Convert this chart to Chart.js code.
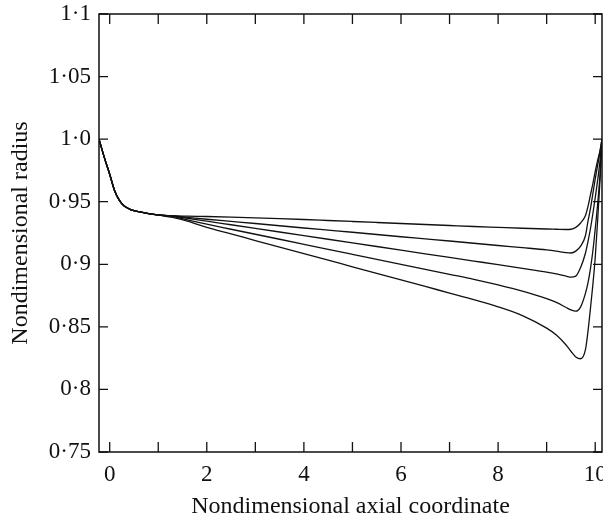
<!DOCTYPE html>
<html>
<head>
<meta charset="utf-8">
<script src="https://cdn.jsdelivr.net/npm/chart.js@4/dist/chart.umd.min.js"></script>
<style>
html,body{margin:0;padding:0;background:#fff;}
#wrap{width:603px;height:521px;}
</style>
</head>
<body>
<div id="wrap"><canvas id="c" width="603" height="521"></canvas></div>
<script>
// Shared axial coordinate samples
const xAxial = [-0.22, -0.1, 0.0, 0.1, 0.2, 0.3, 0.45, 0.6, 0.8, 1.0, 1.3, 1.6, 2.0, 2.5, 3.0, 3.5, 4.0, 4.5, 5.0, 5.5, 6.0, 6.5, 7.0, 7.5, 8.0, 8.5, 9.0, 9.2, 9.4, 9.5, 9.6, 9.7, 9.8, 9.85, 9.9, 9.95, 10.0, 10.05, 10.1, 10.14];

// Nondimensional radius for the five curves (top to bottom)
const radius1 = [1.000, 0.984, 0.972, 0.959, 0.951, 0.9465, 0.9435, 0.942, 0.9405, 0.9395, 0.9388, 0.9385, 0.9382, 0.9377, 0.9371, 0.9365, 0.9358, 0.935, 0.9342, 0.9334, 0.9326, 0.9318, 0.931, 0.9302, 0.9295, 0.9288, 0.9282, 0.928, 0.9278, 0.928, 0.9295, 0.933, 0.939, 0.946, 0.955, 0.964, 0.974, 0.983, 0.991, 1.000];
const radius2 = [1.000, 0.984, 0.972, 0.959, 0.951, 0.9465, 0.9435, 0.942, 0.9405, 0.9395, 0.9386, 0.9375, 0.936, 0.9343, 0.9326, 0.9308, 0.929, 0.9273, 0.9256, 0.9238, 0.922, 0.9203, 0.9186, 0.9168, 0.915, 0.9133, 0.9115, 0.9105, 0.9093, 0.909, 0.9105, 0.9145, 0.923, 0.934, 0.944, 0.956, 0.968, 0.979, 0.990, 1.000];
const radius3 = [1.000, 0.984, 0.972, 0.959, 0.951, 0.9465, 0.9435, 0.942, 0.9405, 0.9395, 0.9384, 0.9368, 0.9345, 0.9316, 0.9287, 0.9258, 0.9229, 0.920, 0.9171, 0.9142, 0.9113, 0.9084, 0.9055, 0.9026, 0.8997, 0.8967, 0.8937, 0.8923, 0.8905, 0.8897, 0.8905, 0.8975, 0.909, 0.918, 0.928, 0.940, 0.953, 0.967, 0.983, 1.000];
const radius4 = [1.000, 0.984, 0.972, 0.959, 0.951, 0.9465, 0.9435, 0.942, 0.9405, 0.9394, 0.938, 0.9355, 0.932, 0.928, 0.924, 0.920, 0.916, 0.912, 0.908, 0.904, 0.900, 0.896, 0.892, 0.888, 0.8835, 0.8785, 0.8725, 0.8695, 0.8655, 0.8635, 0.8625, 0.866, 0.877, 0.885, 0.896, 0.910, 0.928, 0.948, 0.972, 1.000];
const radius5 = [1.000, 0.984, 0.972, 0.959, 0.951, 0.9465, 0.9435, 0.942, 0.9405, 0.9392, 0.9375, 0.9345, 0.9295, 0.9243, 0.919, 0.9138, 0.9085, 0.9033, 0.898, 0.8928, 0.8875, 0.8823, 0.877, 0.8718, 0.866, 0.859, 0.849, 0.8435, 0.8355, 0.8305, 0.826, 0.8245, 0.832, 0.846, 0.864, 0.883, 0.905, 0.935, 0.968, 1.000];

// Ticks
const xTickValues = [0, 1, 2, 3, 4, 5, 6, 7, 8, 9, 10];
const xTickLabels = ['0', '', '2', '', '4', '', '6', '', '8', '', '10'];
const yTickValues = [0.75, 0.8, 0.85, 0.9, 0.95, 1.0, 1.05, 1.1];
const yTickLabels = ['0·75', '0·8', '0·85', '0·9', '0·95', '1·0', '1·05', '1·1'];

const seriesList = [radius1, radius2, radius3, radius4, radius5];
const ink = '#111';
const serif = 'Liberation Serif, Times New Roman, serif';

const datasets = seriesList.map(arr => ({
  data: arr.map((v, i) => ({x: xAxial[i], y: v})),
  borderColor: ink,
  borderWidth: 1.3,
  pointRadius: 0,
  fill: false,
  cubicInterpolationMode: 'monotone'
}));

const frameTicks = {
  id: 'frameTicks',
  afterDatasetsDraw(chart) {
    const {ctx, chartArea: a, scales: {x, y}} = chart;
    ctx.save();
    ctx.strokeStyle = ink;
    ctx.lineWidth = 1.5;
    ctx.strokeRect(a.left, a.top, a.right - a.left, a.bottom - a.top);
    ctx.lineWidth = 1.3;
    ctx.beginPath();
    x.ticks.forEach(t => {
      const px = x.getPixelForValue(t.value);
      ctx.moveTo(px, a.bottom); ctx.lineTo(px, a.bottom - 10);
      ctx.moveTo(px, a.top); ctx.lineTo(px, a.top + 10);
    });
    y.ticks.forEach(t => {
      const py = y.getPixelForValue(t.value);
      ctx.moveTo(a.left, py); ctx.lineTo(a.left + 9, py);
      ctx.moveTo(a.right, py); ctx.lineTo(a.right - 9, py);
    });
    ctx.stroke();
    ctx.restore();
  }
};

new Chart(document.getElementById('c'), {
  type: 'line',
  data: {datasets},
  options: {
    responsive: false,
    animation: false,
    devicePixelRatio: 1,
    layout: {padding: {left: 0, top: 14, right: 1, bottom: 0}},
    plugins: {legend: {display: false}, tooltip: {enabled: false}},
    scales: {
      x: {
        type: 'linear',
        min: -0.22,
        max: 10.14,
        afterBuildTicks: s => { s.ticks = xTickValues.map(v => ({value: v})); },
        afterFit: s => { s.height = 69; s.paddingLeft = 0; s.paddingRight = 0; },
        grid: {display: false, drawTicks: false},
        border: {display: false},
        ticks: {
          autoSkip: false, maxRotation: 0, minRotation: 0, padding: 9,
          color: ink, font: {family: serif, size: 23},
          callback: (v, i) => xTickLabels[i]
        },
        title: {
          display: true, text: 'Nondimensional axial coordinate', color: ink,
          font: {family: serif, size: 24}, padding: {top: 0, bottom: 0}
        }
      },
      y: {
        type: 'linear',
        min: 0.75,
        max: 1.1,
        afterBuildTicks: s => { s.ticks = yTickValues.map(v => ({value: v})); },
        afterFit: s => { s.width = 99; s.paddingTop = 0; s.paddingBottom = 0; },
        grid: {display: false, drawTicks: false},
        border: {display: false},
        ticks: {
          autoSkip: false, padding: 8,
          color: ink, font: {family: serif, size: 23},
          callback: (v, i) => yTickLabels[i]
        },
        title: {
          display: true, text: 'Nondimensional radius', color: ink,
          font: {family: serif, size: 24}, padding: {top: 6, bottom: 0}
        }
      }
    }
  },
  plugins: [frameTicks]
});
</script>
</body>
</html>
